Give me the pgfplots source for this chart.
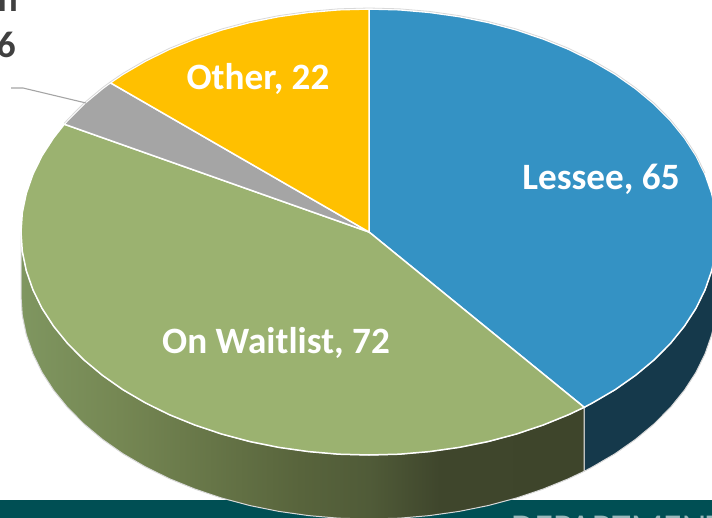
\documentclass[border=0pt]{standalone}
\usepackage{pgfplots}
\pgfplotsset{compat=1.18}
\usepackage{fontspec}
\setmainfont{Carlito}
\definecolor{cBlue}{HTML}{3492C4}
\definecolor{cBlueSide}{HTML}{15394B}
\definecolor{cGreen}{HTML}{9BB270}
\definecolor{cGray}{HTML}{A5A5A5}
\definecolor{cOrange}{HTML}{FFC000}
\definecolor{cBand}{HTML}{004F54}
\definecolor{cDark}{HTML}{404040}
\definecolor{cRim}{HTML}{D9D9D9}
\definecolor{gA}{HTML}{7F9660}
\definecolor{gB}{HTML}{758753}
\definecolor{gC}{HTML}{58643C}
\definecolor{gD}{HTML}{505B38}
\definecolor{gE}{HTML}{3F462C}
\definecolor{gF}{HTML}{3E452B}
\pgfdeclarehorizontalshading{greenside}{100bp}{
 color(0bp)=(gA);
 color(25bp)=(gA);
 color(33.8bp)=(gB);
 color(49.8bp)=(gC);
 color(55.9bp)=(gD);
 color(62.2bp)=(gE);
 color(75bp)=(gF);
 color(100bp)=(gF)}
\begin{document}
\begin{tikzpicture}
\path[use as bounding box,clip] (0,0) rectangle (712pt,518pt);
\begin{axis}[
  at={(0,0)},anchor=south west,
  scale only axis,width=712pt,height=518pt,
  xmin=0,xmax=712,ymin=0,ymax=518,y dir=reverse,
  hide axis,no marks,clip=true]
% footer band
\addplot[fill=cBand,draw=none] coordinates {(0,500)(712,500)(712,518)(0,518)} -- cycle;
% side of Lessee (65): rim t=90..141.8, then 64 lower
\addplot[fill=cBlueSide,draw=cRim,line width=1pt] coordinates {
(717,232)(715.7,251.4)(711.7,270.7)(705.1,289.7)(696,308.3)(684.4,326.2)(670.4,343.5)(654.1,359.9)(635.6,375.3)(615.1,389.7)(592.7,402.8)(584.2,407.3)
(584.2,471.3)(592.7,466.8)(615.1,453.7)(635.6,439.3)(654.1,423.9)(670.4,407.5)(684.4,390.2)(696,372.3)(705.1,353.7)(711.7,334.7)(715.7,315.4)(717,296)} -- cycle;
% side of On Waitlist (72)
\addplot[shade,shading=greenside,draw=cRim,line width=1pt] coordinates {
(584.2,407.3)(568.6,414.7)(543,425.1)(516.1,434.1)(488,441.6)(459.1,447.4)(429.4,451.6)(399.3,454.2)(369,455)(338.7,454.2)(308.6,451.6)(278.9,447.4)(250,441.6)(221.9,434.1)(195,425.1)(169.4,414.7)(145.3,402.8)(122.9,389.7)(102.4,375.3)(83.9,359.9)(67.6,343.5)(53.6,326.2)(42,308.3)(32.9,289.7)(26.3,270.7)(22.3,251.4)(21,232)
(21,296)(22.3,315.4)(26.3,334.7)(32.9,353.7)(42,372.3)(53.6,390.2)(67.6,407.5)(83.9,423.9)(102.4,439.3)(122.9,453.7)(145.3,466.8)(169.4,478.7)(195,489.1)(221.9,498.1)(250,505.6)(278.9,511.4)(308.6,515.6)(338.7,518.2)(369,519)(399.3,518.2)(429.4,515.6)(459.1,511.4)(488,505.6)(516.1,498.1)(543,489.1)(568.6,478.7)(584.2,471.3)} -- cycle;
% top: Lessee 65
\addplot[fill=cBlue,draw=white,line width=1.5pt] coordinates {
(369,232)(369,9)(399.3,9.8)(429.4,12.4)(459.1,16.6)(488,22.4)(516.1,29.9)(543,38.9)(568.6,49.3)(592.7,61.2)(615.1,74.3)(635.6,88.7)(654.1,104.1)(670.4,120.5)(684.4,137.8)(696,155.7)(705.1,174.3)(711.7,193.3)(715.7,212.6)(717,232)(715.7,251.4)(711.7,270.7)(705.1,289.7)(696,308.3)(684.4,326.2)(670.4,343.5)(654.1,359.9)(635.6,375.3)(615.1,389.7)(592.7,402.8)(584.2,407.3)} -- cycle;
% top: On Waitlist 72
\addplot[fill=cGreen,draw=white,line width=1.5pt] coordinates {
(369,232)(584.2,407.3)(568.6,414.7)(543,425.1)(516.1,434.1)(488,441.6)(459.1,447.4)(429.4,451.6)(399.3,454.2)(369,455)(338.7,454.2)(308.6,451.6)(278.9,447.4)(250,441.6)(221.9,434.1)(195,425.1)(169.4,414.7)(145.3,402.8)(122.9,389.7)(102.4,375.3)(83.9,359.9)(67.6,343.5)(53.6,326.2)(42,308.3)(32.9,289.7)(26.3,270.7)(22.3,251.4)(21,232)(22.3,212.6)(26.3,193.3)(32.9,174.3)(42,155.7)(53.6,137.8)(64.3,124.2)} -- cycle;
% top: 6
\addplot[fill=cGray,draw=white,line width=1.5pt] coordinates {
(369,232)(64.3,124.2)(67.6,120.5)(83.9,104.1)(102.4,88.7)(110.4,82.8)} -- cycle;
% top: Other 22
\addplot[fill=cOrange,draw=white,line width=1.5pt] coordinates {
(369,232)(110.4,82.8)(122.9,74.3)(145.3,61.2)(169.4,49.3)(195,38.9)(221.9,29.9)(250,22.4)(278.9,16.6)(308.6,12.4)(338.7,9.8)(369,9)} -- cycle;
% rim hairline at the top
\addplot[draw=cRim,line width=0.8pt] coordinates {
(64.3,123.2)(67.6,119.5)(83.9,103.1)(102.4,87.7)(110.4,81.8)(122.9,73.3)(145.3,60.2)(169.4,48.3)(195,37.9)(221.9,28.9)(250,21.4)(278.9,15.6)(308.6,11.4)(338.7,8.8)(369,8)(399.3,8.8)(429.4,11.4)(459.1,15.6)(488,21.4)(516.1,28.9)(543,37.9)(568.6,48.3)(592.7,60.2)(615.1,73.3)(635.6,87.7)(654.1,103.1)(670.4,119.5)(684.4,136.8)(696,154.7)(705.1,173.3)};
% leader line
\addplot[draw=cGray,line width=1.1pt] coordinates {(11,88)(23,88)(86,103)};
\node[anchor=base,text=white,font=\fontsize{37.2}{40}\selectfont\bfseries] at (axis cs:601,190) {Lessee, 65};
\node[anchor=base,text=white,font=\fontsize{37.2}{40}\selectfont\bfseries] at (axis cs:276,354) {On Waitlist, 72};
\node[anchor=base,text=white,font=\fontsize{37.2}{40}\selectfont\bfseries] at (axis cs:258,90) {Other, 22};
\node[anchor=base east,inner sep=0pt,text=cDark,font=\fontsize{37.2}{40}\selectfont\bfseries] at (axis cs:18,12) {n};
\node[anchor=base east,inner sep=0pt,text=cDark,font=\fontsize{37.2}{40}\selectfont\bfseries] at (axis cs:16,58) {6};
\node[anchor=base west,inner sep=0pt,text=cBand!40!white,font=\fontsize{38}{40}\selectfont] at (axis cs:511,540) {DEPARTMENT};
\end{axis}
\end{tikzpicture}
\end{document}
